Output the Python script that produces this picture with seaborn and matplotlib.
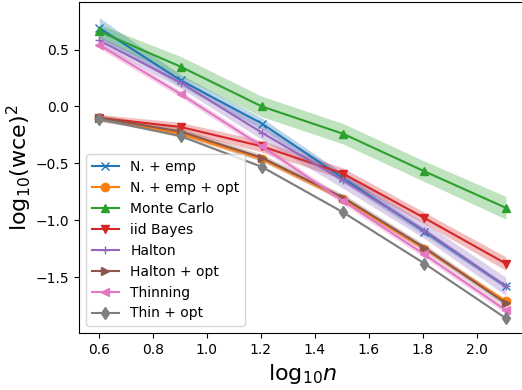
import numpy as np
import pandas as pd
import matplotlib
matplotlib.use('Agg')
import matplotlib.pyplot as plt
import seaborn as sns

# sample sizes n = 4 .. 128
n_vals = [4, 8, 16, 32, 64, 128]

labels = ['N. + emp', 'N. + emp + opt', 'Monte Carlo', 'iid Bayes',
          'Halton', 'Halton + opt', 'Thinning', 'Thin + opt']
markers = ['x', 'o', '^', 'v', '+', '>', '<', 'd']

# mean log10(wce)^2
nemp = [0.69, 0.23, -0.15, -0.63, -1.10, -1.58]
nemp_opt = [-0.10, -0.24, -0.46, -0.81, -1.25, -1.71]
monte_carlo = [0.66, 0.35, 0.00, -0.24, -0.57, -0.89]
iid_bayes = [-0.10, -0.18, -0.35, -0.59, -0.98, -1.38]
halton = [0.58, 0.21, -0.23, -0.65, -1.09, -1.58]
halton_opt = [-0.10, -0.22, -0.45, -0.80, -1.24, -1.73]
thinning = [0.54, 0.11, -0.35, -0.83, -1.30, -1.79]
thin_opt = [-0.11, -0.26, -0.53, -0.93, -1.38, -1.86]

# half width of the shaded bands
nemp_sd = [0.09, 0.05, 0.05, 0.04, 0.03, 0.02]
nemp_opt_sd = [0.02, 0.02, 0.02, 0.02, 0.02, 0.02]
monte_carlo_sd = [0.06, 0.09, 0.09, 0.09, 0.09, 0.10]
iid_bayes_sd = [0.03, 0.04, 0.05, 0.05, 0.05, 0.06]
halton_sd = [0.04, 0.05, 0.06, 0.07, 0.07, 0.08]
halton_opt_sd = [0.03, 0.03, 0.03, 0.03, 0.03, 0.03]
thinning_sd = [0.03, 0.03, 0.03, 0.03, 0.03, 0.03]
thin_opt_sd = [0.01, 0.01, 0.01, 0.01, 0.01, 0.01]

means = [nemp, nemp_opt, monte_carlo, iid_bayes, halton, halton_opt, thinning, thin_opt]
sds = [nemp_sd, nemp_opt_sd, monte_carlo_sd, iid_bayes_sd, halton_sd, halton_opt_sd,
       thinning_sd, thin_opt_sd]

log_n = np.log10(n_vals)
colors = sns.color_palette('tab10', 8)

fig = plt.figure(figsize=(5.22, 3.9), dpi=100)
ax = fig.add_axes([79 / 522, 57 / 390, 447 / 522, 331 / 390])

for lab, mk, col, m, s in zip(labels, markers, colors, means, sds):
    m = np.array(m)
    s = np.array(s)
    sns.lineplot(x=log_n, y=m, ax=ax, color=col, marker=mk, label=lab,
                 markeredgecolor=col, markeredgewidth=1, markersize=6)
    ax.fill_between(log_n, m - s, m + s, color=col, alpha=0.3, linewidth=0)

ax.set_ylim(-1.99, 0.918)
ax.set_xlim(0.527, 2.182)
ax.set_xlabel(r'log$_{10}n$', fontsize=16)
ax.set_ylabel(r'log$_{10}$(wce)$^2$', fontsize=16, labelpad=1)
ax.legend(loc='lower left', fontsize=10)
plt.savefig('out.png', dpi=100)
